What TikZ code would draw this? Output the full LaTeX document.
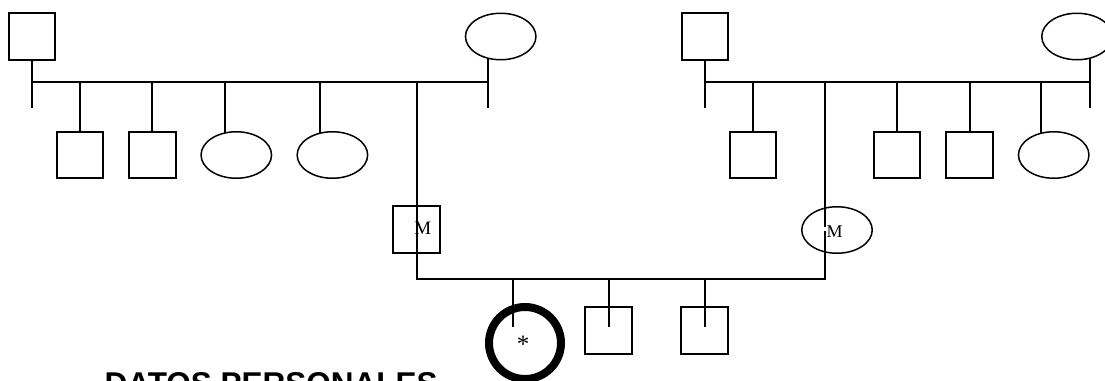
\documentclass[tikz,border=0pt]{standalone}
\usepackage{fontspec}
\setmainfont{Liberation Serif}
\newfontfamily\headsans{Liberation Sans}
\usetikzlibrary{shapes.geometric}
\begin{document}
\begin{tikzpicture}[x=1pt,y=-1pt,
  link/.style={line width=2pt},
  male/.style={draw, rectangle, line width=2pt, minimum width=46.5pt, minimum height=46.5pt, inner sep=0pt},
  female/.style={draw, ellipse, line width=1.5pt, minimum width=70.5pt, minimum height=46.5pt, inner sep=0pt},
  proband/.style={draw, circle, line width=8pt, minimum size=72pt, inner sep=0pt},
  tag/.style={inner sep=0pt}
]
\clip (0,0) rectangle (1105,380);
\fill[white] (0,0) rectangle (1105,380);

% ---- paternal side ----
\node[male]   (pgf) at (31.8,36.5) {};
\node[female] (pgm) at (500.7,36.5) {};
\coordinate (pbarL) at (31.8,82.3);
\coordinate (pbarR) at (488,82.3);
\coordinate (pstubL) at (31.8,108.3);
\coordinate (pstubR) at (488,108.3);
\draw[link] (pgf.south) -- (pstubL);
\draw[link] (pbarR |- pgm.-120) -- (pstubR);
\draw[link] (pbarL) -- (pbarR);

\node[male]   (pc1) at (80.2,155) {};
\node[male]   (pc2) at (152.4,155) {};
\node[female] (pc3) at (236.3,155) {};
\node[female] (pc4) at (332.4,155) {};
\coordinate (pd3) at (224.5,82.3);
\coordinate (pd4) at (320.2,82.3);
\draw[link] (pc1.north |- pbarL) -- (pc1.north);
\draw[link] (pc2.north |- pbarL) -- (pc2.north);
\draw[link] (pd3) -- (pd3 |- pc3.120);
\draw[link] (pd4) -- (pd4 |- pc4.120);

% ---- maternal side ----
\node[male]   (mgf) at (705,36.5) {};
\node[female] (mgm) at (1077,36.5) {};
\coordinate (mbarL) at (705,82.3);
\coordinate (mbarR) at (1089.8,82.3);
\coordinate (mstubL) at (705,108.3);
\coordinate (mstubR) at (1089.8,108.3);
\draw[link] (mgf.south) -- (mstubL);
\draw[link] (mbarR |- mgm.-60) -- (mstubR);
\draw[link] (mbarL) -- (mbarR);

\node[male]   (mc1) at (753,155) {};
\node[male]   (mc2) at (897,155) {};
\node[male]   (mc3) at (969.5,155) {};
\node[female] (mc4) at (1053.7,155) {};
\coordinate (md4) at (1041.3,82.3);
\draw[link] (mc1.north |- mbarL) -- (mc1.north);
\draw[link] (mc2.north |- mbarL) -- (mc2.north);
\draw[link] (mc3.north |- mbarL) -- (mc3.north);
\draw[link] (md4) -- (md4 |- mc4.120);

% ---- parents ----
\node[male]   (fa) at (416.5,229.7) {};
\node[female] (mo) at (837,230) {};
\coordinate (faTop) at (416.7,82.3);
\coordinate (moTop) at (825.3,82.3);
\coordinate (sibL) at (416.7,279.3);
\coordinate (sibR) at (825.3,279.3);
\draw[link] (faTop) -- (sibL) -- (sibR) -- (moTop);
\fill[white] (824,226.5) rectangle (826.6,230.5);
\node[tag, font=\fontsize{19}{19}\selectfont] (faM) at (422.7,228) {M};
\node[tag, font=\fontsize{18}{18}\selectfont] (moM) at (834.5,232) {M};

% ---- siblings ----
\node[proband] (ego) at (525,343) {};
\node[male]    (s1)  at (608.5,330.7) {};
\node[male]    (s2)  at (704.6,330.7) {};
\coordinate (egoTop) at (513,279.3);
\coordinate (egoEnd) at (513,327.3);
\coordinate (s1End) at (608.5,327.3);
\coordinate (s2End) at (704.6,327.3);
\draw[link] (egoTop) -- (egoEnd);
\draw[link] (s1End |- sibL) -- (s1End);
\draw[link] (s2End |- sibL) -- (s2End);
\node[tag, font=\fontsize{25}{25}\selectfont] (star) at (523,344.5) {*};

% ---- heading ----
\node[anchor=base west, inner sep=0pt, font=\headsans\bfseries\fontsize{31.5}{31.5}\selectfont] (head) at (104.4,394) {DATOS PERSONALES};
\end{tikzpicture}
\end{document}
